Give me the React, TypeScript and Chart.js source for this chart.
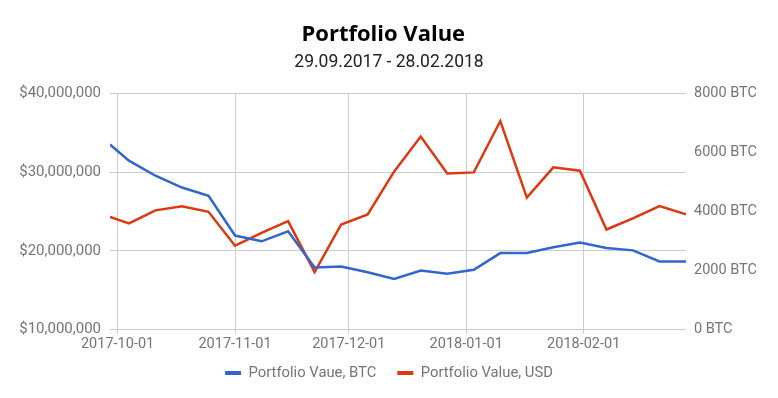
import React, { useEffect, useRef } from "react";
import { Chart, registerables } from "chart.js";

Chart.register(...registerables);

const dates = [
  "2017-09-29", "2017-10-04", "2017-10-11", "2017-10-18", "2017-10-25",
  "2017-11-01", "2017-11-08", "2017-11-15", "2017-11-22", "2017-11-29",
  "2017-12-06", "2017-12-13", "2017-12-20", "2017-12-27", "2018-01-03",
  "2018-01-10", "2018-01-17", "2018-01-24", "2018-01-31", "2018-02-07",
  "2018-02-14", "2018-02-21", "2018-02-28",
];

const btcValues = [
  6270, 5724, 5212, 4812, 4529,
  3188, 2993, 3334, 2106, 2140,
  1945, 1720, 2003, 1891, 2027,
  2594, 2594, 2788, 2949, 2765,
  2686, 2311, 2311,
];

const usdValues = [
  24330000, 23490000, 25150000, 25670000, 24970000,
  20670000, 22290000, 23780000, 17300000, 23360000,
  24640000, 30090000, 34530000, 29840000, 29970000,
  36490000, 26770000, 30610000, 30180000, 22720000,
  24130000, 25700000, 24640000,
];

const monthTicks = ["2017-10-01", "2017-11-01", "2017-12-01", "2018-01-01", "2018-02-01"];
const usdTicks = [10000000, 20000000, 30000000, 40000000];
const btcTicks = [0, 2000, 4000, 6000, 8000];

const START = Date.UTC(2017, 8, 29);
const DAY = 86400000;
const toDay = (s: string) => (Date.parse(s + "T00:00:00Z") - START) / DAY;
const END_DAY = toDay("2018-02-28");

const GRID = "#cccccc";
const TICK = "#757575";

export default function App() {
  const ref = useRef<HTMLCanvasElement | null>(null);

  useEffect(() => {
    if (!ref.current) return;
    Chart.defaults.font.family = "Roboto";
    const chart = new Chart(ref.current, {
      type: "line",
      data: {
        datasets: [
          {
            label: "Portfolio Vaue, BTC",
            data: dates.map((d, i) => ({ x: toDay(d), y: btcValues[i] })),
            borderColor: "#3366cc",
            backgroundColor: "#3366cc",
            borderWidth: 2.5,
            pointRadius: 0,
            tension: 0,
            yAxisID: "yBtc",
          },
          {
            label: "Portfolio Value, USD",
            data: dates.map((d, i) => ({ x: toDay(d), y: usdValues[i] })),
            borderColor: "#dc3912",
            backgroundColor: "#dc3912",
            borderWidth: 2.5,
            pointRadius: 0,
            tension: 0,
            yAxisID: "yUsd",
          },
        ],
      },
      options: {
        responsive: false,
        animation: false,
        layout: { padding: { top: 0, bottom: 7.5, left: 0, right: 0 } },
        plugins: {
          tooltip: { enabled: false },
          title: {
            display: true,
            text: "Portfolio Value  ",
            color: "#000000",
            font: { size: 22, weight: "bold", family: "'Open Sans'" },
            padding: { top: 22, bottom: 4 },
          },
          subtitle: {
            display: true,
            text: "29.09.2017 - 28.02.2018",
            color: "#222222",
            font: { size: 17.5, family: "Roboto" },
            padding: { top: 0, bottom: 20 },
          },
          legend: {
            position: "bottom",
            labels: {
              color: TICK,
              font: { size: 14.8, family: "Roboto" },
              boxWidth: 16,
              boxHeight: 4,
              padding: 10,
              generateLabels: (c: any) =>
                Chart.defaults.plugins.legend.labels
                  .generateLabels(c)
                  .map((it: any, i: number) => ({
                    ...it,
                    lineWidth: 0,
                    text: i === 0 ? it.text + "   " : it.text,
                  })),
            },
          },
        },
        scales: {
          x: {
            type: "linear",
            min: 0,
            max: END_DAY,
            afterBuildTicks: (scale: any) => {
              scale.ticks = monthTicks.map((d) => ({ value: toDay(d) }));
            },
            afterFit: (scale: any) => {
              scale.height = 26;
            },
            ticks: {
              autoSkip: false,
              maxRotation: 0,
              color: TICK,
              font: { size: 14.5 },
              padding: 2,
              callback: (v: any) => {
                const m = monthTicks.find((d) => toDay(d) === v);
                return m || "";
              },
            },
            grid: { color: GRID, tickLength: 4, tickColor: GRID },
            border: { display: false },
          },
          yUsd: {
            type: "linear",
            position: "left",
            min: 10000000,
            max: 40000000,
            afterBuildTicks: (scale: any) => {
              scale.ticks = usdTicks.map((v) => ({ value: v }));
            },
            afterFit: (scale: any) => {
              scale.width = 110;
            },
            ticks: {
              color: TICK,
              font: { size: 15 },
              padding: 9,
              callback: (v: any) => "$" + Number(v).toLocaleString("en-US"),
            },
            grid: { color: GRID, drawTicks: false },
            border: { display: false },
          },
          yBtc: {
            type: "linear",
            position: "right",
            min: 0,
            max: 8000,
            afterBuildTicks: (scale: any) => {
              scale.ticks = btcTicks.map((v) => ({ value: v }));
            },
            afterFit: (scale: any) => {
              scale.width = 92;
            },
            ticks: {
              color: TICK,
              font: { size: 14.5 },
              padding: 8,
              callback: (v: any) => v + " BTC",
            },
            grid: { display: false, drawTicks: false },
            border: { display: false },
          },
        },
      } as any,
    });
    return () => chart.destroy();
  }, []);

  return (
    <div style={{ position: "fixed", left: 0, top: 0, width: 778, height: 398, background: "#fff" }}>
      <canvas ref={ref} width={778} height={398} style={{ width: 778, height: 398, display: "block" }} />
    </div>
  );
}
